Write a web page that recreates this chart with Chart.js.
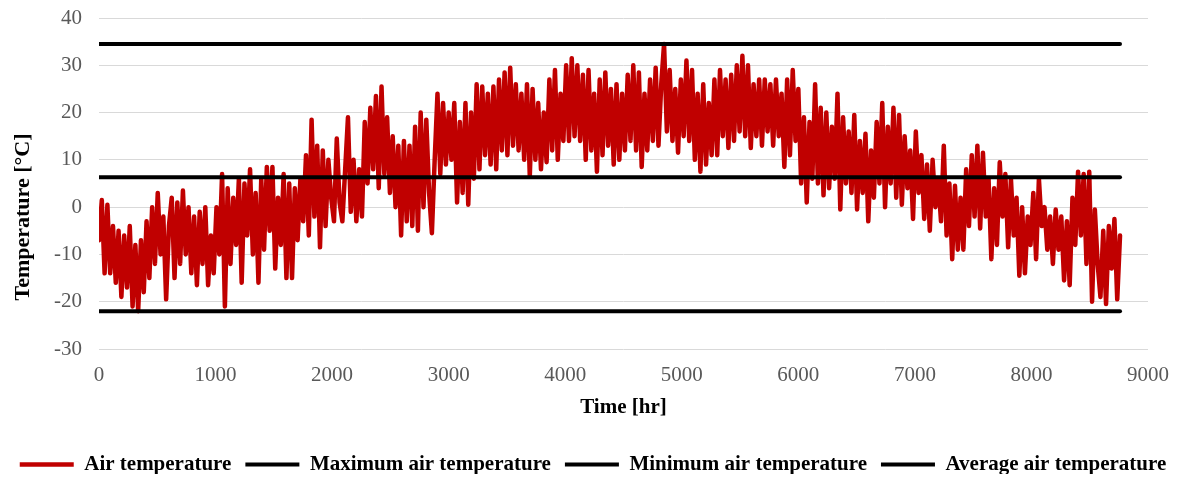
<!DOCTYPE html>
<html>
<head>
<meta charset="utf-8">
<script src="https://cdn.jsdelivr.net/npm/chart.js@4"></script>
<style>
  html, body { margin: 0; padding: 0; background: #fff; }
</style>
</head>
<body>
<canvas id="chart" width="1186" height="477"></canvas>
<script>
// hourly air temperature, read every 24 hr off the plot
const stepHours = 24;
const airTemp = [
  -7, 1.5, -14, 0.5, -14, -4, -16, -5, -19, -6,
  -17, -4, -21, -8, -22, -7, -18, -3, -15, 0,
  -12, 3, -10, -2, -19.5, -4, 2, -15, 1, -12,
  3.5, -10, 0, -14, -2, -16.5, -1, -12, 0, -16.5,
  -6, -14, 0, -10, 7, -21, 4, -12, 2, -8,
  6, -16, 5, -6, 8, -10, 3, -16, 6, -9,
  8.5, -5, 8.5, -13, 2, -8, 7, -15, 5, -15,
  4, -7, 6, -3, 11, -6, 18.5, -2, 13, -8.5,
  12, -4, 10, 2, -3, 14.5, 1, -3, 8, 19,
  -1, 10, -3, 8, -2, 18, 5, 21, 8, 23.5,
  4, 25.5, 7, 19, 3, 15, 0, 13, -6, 14,
  -3, 13, -4, 17, -5, 20, 0, 18.5, 3, -5.5,
  10, 24, 7, 22, 9, 20, 10, 22, 1, 18,
  3, 22, 0.5, 20, 6, 26, 8, 25.5, 11, 24,
  9, 25.5, 8, 27, 12, 28.5, 11, 29.5, 13, 26,
  12, 24, 10, 26, 6.5, 25, 10, 22, 8, 20,
  9.5, 27, 12, 29, 10, 24, 14, 30, 14, 31.5,
  15, 30, 14, 28, 10, 29, 12, 24, 7.5, 27,
  11, 28.5, 13, 25, 9, 26, 10, 24, 12, 28,
  14, 30, 12, 28.5, 8.5, 24, 12, 27, 14, 29.5,
  13, 26, 34.5, 16, 29, 14, 25, 11.5, 27, 15,
  31, 14, 29, 10, 24, 7.5, 26, 9, 22, 11,
  27, 11, 29, 15, 27, 12.5, 28, 14, 30, 16,
  32, 15, 30, 12.5, 26, 15, 27, 13, 27, 16,
  26, 13, 27, 15, 24, 8.5, 27, 11, 29, 14,
  25, 5, 19, 1, 18, 6, 26, 5, 21, 2.5,
  20, 4, 17, 6, 24, -0.5, 19, 5, 16, 3,
  19.5, -0.5, 14, 3, 15.5, -3, 12, 2, 18, 5,
  22, 0, 17, 5, 21, 2, 19.5, 0.5, 15, 4,
  12, -2.5, 16, 3, 11, -2.5, 9, -5, 10, 0,
  6, -3, 13, -6, 5, -11, 4.5, -9, 2, -9,
  8, -4, 11, -2, 13, -4.5, 11.5, -2, 6, -11,
  4, -8, 9.5, -2, 7, -8.5, 6, -6, 2, -14.5,
  0, -14, -2, -8, 3, -11, 6, -4, 0, -9,
  -2, -12, -0.5, -9, -2, -15.5, -3, -16.5, 2, -8,
  7.5, -6, 7, -12, 7.5, -20, -0.5, -12, -19, -5,
  -20.5, -4, -13, -2.5, -19.5, -6
];
const maxTemp = 34.5;
const minTemp = -22;
const avgTemp = 6.3;
const lastHour = 8760;

const red = '#C00000';
const serif = "'Liberation Serif', 'Times New Roman', serif";

const airPoints = airTemp.map((v, i) => ({ x: i * stepHours, y: v }));
const flat = (v) => [{ x: 0, y: v }, { x: lastHour, y: v }];

// y title sits a bit below the plot centre in the original
const yTitle = {
  id: 'yTitle',
  afterDraw(chart) {
    const ctx = chart.ctx;
    ctx.save();
    ctx.translate(23, 217);
    ctx.rotate(-Math.PI / 2);
    ctx.font = 'bold 22px ' + serif;
    ctx.fillStyle = '#000';
    ctx.textAlign = 'center';
    ctx.textBaseline = 'middle';
    ctx.fillText('Temperature [°C]', 0, 0);
    ctx.restore();
  }
};

new Chart(document.getElementById('chart'), {
  type: 'line',
  data: {
    datasets: [
      {
        label: 'Air temperature',
        data: airPoints,
        borderColor: red,
        backgroundColor: red,
        borderWidth: 4.5,
        order: 2,
      },
      {
        label: 'Maximum air temperature',
        data: flat(maxTemp),
        borderColor: '#000',
        backgroundColor: '#000',
        borderWidth: 4,
        order: 1,
      },
      {
        label: 'Minimum air temperature',
        data: flat(minTemp),
        borderColor: '#000',
        backgroundColor: '#000',
        borderWidth: 4,
        order: 1,
      },
      {
        label: 'Average air temperature',
        data: flat(avgTemp),
        borderColor: '#000',
        backgroundColor: '#000',
        borderWidth: 4,
        order: 1,
      }
    ]
  },
  options: {
    responsive: false,
    animation: false,
    elements: {
      point: { radius: 0 },
      line: { tension: 0, borderCapStyle: 'round', borderJoinStyle: 'round' }
    },
    layout: { padding: { top: 0, right: 0, left: 0, bottom: 3 } },
    scales: {
      x: {
        type: 'linear',
        min: 0,
        max: 9000,
        afterFit: (s) => { s.height = 91; s.paddingRight = 38; },
        grid: { display: false, drawTicks: false },
        border: { display: false },
        ticks: {
          stepSize: 1000,
          padding: 14,
          color: '#595959',
          font: { family: serif, size: 21 },
          callback: (v) => String(v),
        },
        title: {
          display: true,
          text: 'Time [hr]',
          color: '#000',
          padding: { top: 0, bottom: 20 },
          font: { family: serif, size: 21, weight: 'bold' },
        }
      },
      y: {
        min: -30,
        max: 40,
        afterFit: (s) => { s.width = 99; s.paddingTop = 18; },
        grid: { color: '#d9d9d9', lineWidth: 1, drawTicks: false },
        border: { display: false },
        ticks: {
          stepSize: 10,
          padding: 17,
          color: '#595959',
          font: { family: serif, size: 21 },
          callback: (v) => String(v),
        }
      }
    },
    plugins: {
      legend: {
        position: 'bottom',
        maxHeight: 34,
        labels: {
          usePointStyle: true,
          pointStyle: 'line',
          pointStyleWidth: 54,
          padding: 14,
          color: '#000',
          font: { family: serif, size: 21, weight: 'bold' },
          sort: (a, b) => a.datasetIndex - b.datasetIndex,
        }
      },
      tooltip: { enabled: false }
    }
  },
  plugins: [yTitle]
});
</script>
</body>
</html>
